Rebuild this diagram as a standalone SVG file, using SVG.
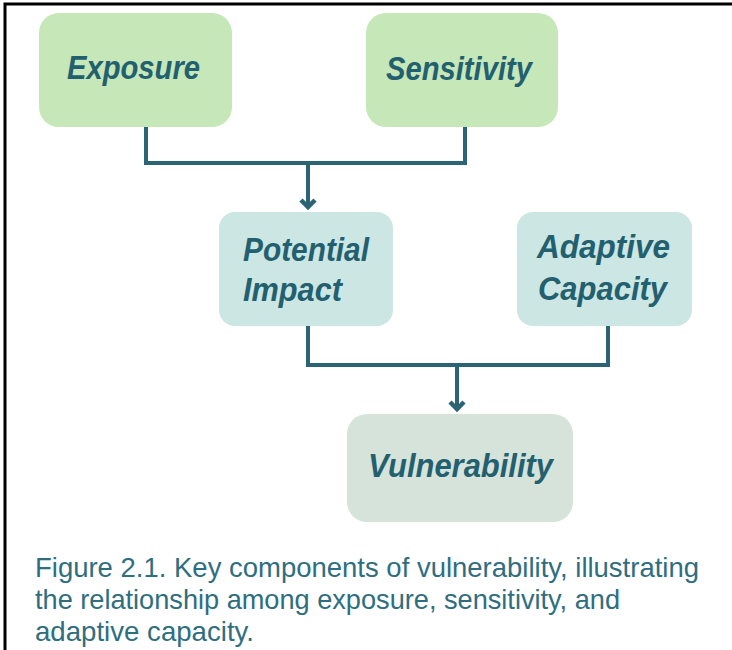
<svg xmlns="http://www.w3.org/2000/svg" width="732" height="650" viewBox="0 0 732 650">
<style>
.frame{stroke:#000;stroke-width:3;fill:none}
.green{fill:#c6e7b8}
.teal{fill:#cce6e4}
.grey{fill:#d6e3da}
.lbl{font-family:"Liberation Sans",Arial,sans-serif;font-weight:bold;font-style:italic;fill:#23606f;font-size:34px}
.conn{stroke:#2a6475;stroke-width:4;fill:none}
.head{stroke:#2a6475;stroke-width:4.5;fill:none;stroke-linecap:butt}
.cap{font-family:"Liberation Sans",Arial,sans-serif;fill:#2e6e80;font-size:28px}
</style>
<path class="frame" d="M5,650 V4 H732"/>
<g id="exposure">
<rect class="green" x="39" y="13" width="193" height="114" rx="20"/>
<text class="lbl" x="67" y="79" textLength="133" lengthAdjust="spacingAndGlyphs">Exposure</text>
</g>
<g id="sensitivity">
<rect class="green" x="366" y="13" width="192" height="114" rx="20"/>
<text class="lbl" x="386" y="80" textLength="146" lengthAdjust="spacingAndGlyphs">Sensitivity</text>
</g>
<g id="potential-impact">
<rect class="teal" x="219" y="212" width="174" height="114" rx="16"/>
<text class="lbl" x="243" y="261" textLength="126" lengthAdjust="spacingAndGlyphs">Potential</text>
<text class="lbl" x="243" y="301" textLength="99" lengthAdjust="spacingAndGlyphs">Impact</text>
</g>
<g id="adaptive-capacity">
<rect class="teal" x="517" y="212" width="175" height="114" rx="16"/>
<text class="lbl" x="537" y="258" textLength="133" lengthAdjust="spacingAndGlyphs">Adaptive</text>
<text class="lbl" x="538" y="300" textLength="129" lengthAdjust="spacingAndGlyphs">Capacity</text>
</g>
<g id="vulnerability">
<rect class="grey" x="347" y="414" width="226" height="108" rx="20"/>
<text class="lbl" x="368" y="477" textLength="185" lengthAdjust="spacingAndGlyphs">Vulnerability</text>
</g>
<g id="connectors">
<path class="conn" d="M146,127 V163 H465 V127"/>
<path class="conn" d="M308,163 V207"/>
<path class="head" d="M301,200 L308,207 L315,200"/>
<path class="conn" d="M308,326 V365 H608 V326"/>
<path class="conn" d="M457,365 V409"/>
<path class="head" d="M450,402 L457,409 L464,402"/>
</g>
<g id="caption">
<text class="cap" x="35" y="577" textLength="664" lengthAdjust="spacingAndGlyphs">Figure 2.1. Key components of vulnerability, illustrating</text>
<text class="cap" x="35" y="609" textLength="585" lengthAdjust="spacingAndGlyphs">the relationship among exposure, sensitivity, and</text>
<text class="cap" x="35" y="641" textLength="219" lengthAdjust="spacingAndGlyphs">adaptive capacity.</text>
</g>
</svg>
